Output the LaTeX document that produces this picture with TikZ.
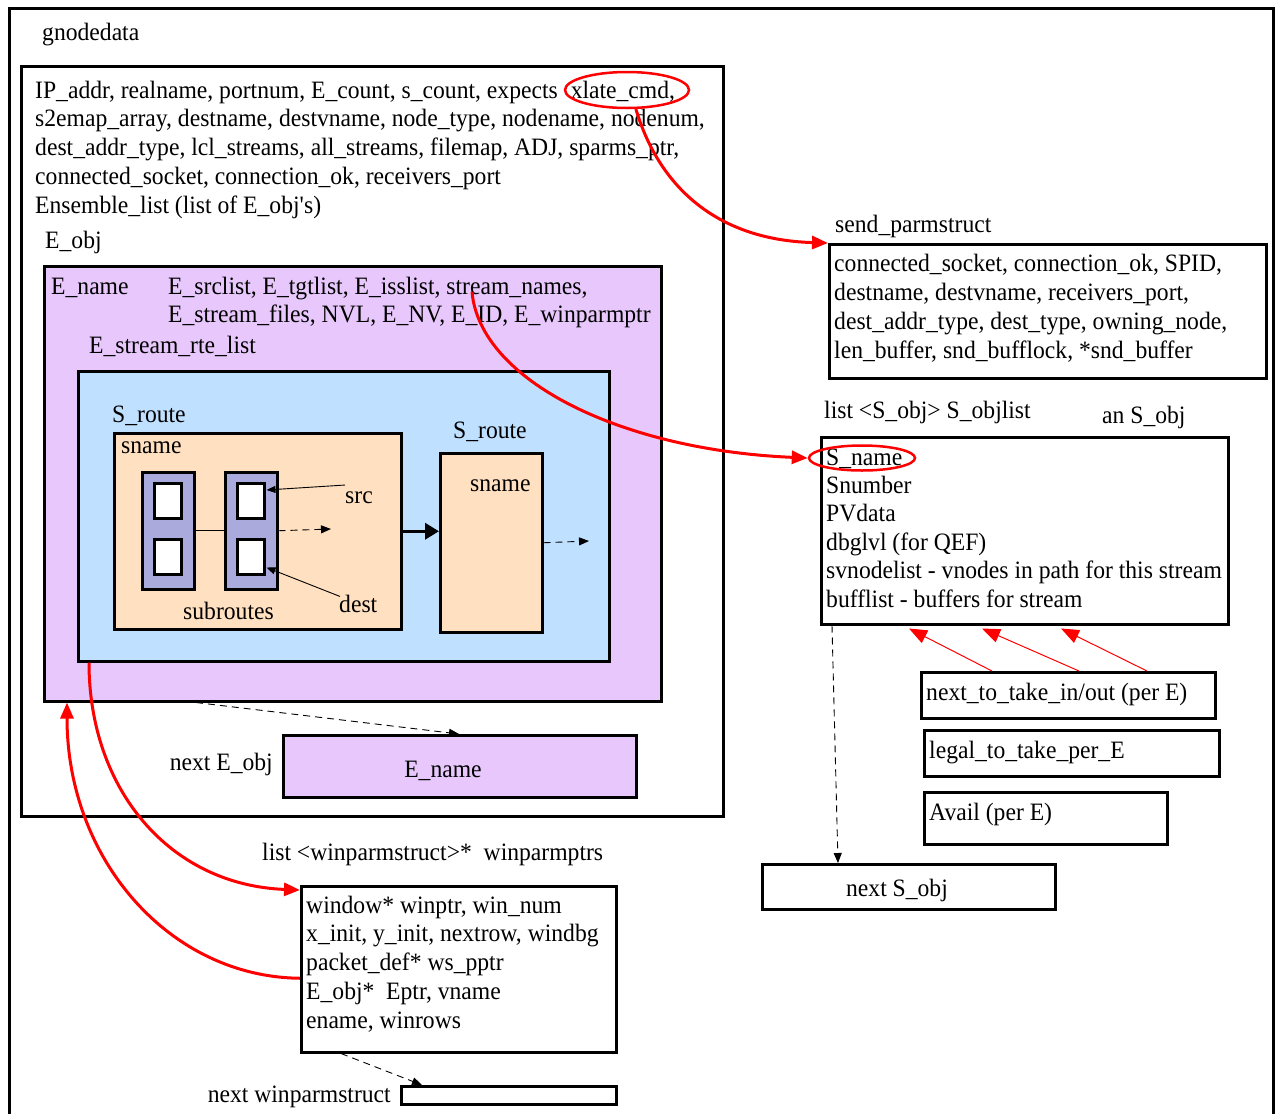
\documentclass[tikz,border=0pt]{standalone}
\usepackage{fontspec}
\setmainfont{Liberation Serif}[FakeStretch=0.945]
\usetikzlibrary{arrows.meta,shapes.geometric,calc}
\definecolor{eobj}{RGB}{232,200,252}
\definecolor{route}{RGB}{191,224,255}
\definecolor{peach}{RGB}{255,224,192}
\definecolor{subr}{RGB}{170,170,221}
\definecolor{hl}{RGB}{255,0,0}
\begin{document}
\begin{tikzpicture}[x=1pt,y=-1pt,
  font=\fontsize{25}{28.7}\selectfont,
  box/.style={draw, line width=2.5pt, inner sep=0pt, anchor=north west},
  txt/.style={inner sep=0pt, anchor=base west, align=left},
  cell/.style={box, fill=white, minimum width=27pt, minimum height=35pt},
  subbox/.style={box, fill=subr, minimum width=52pt, minimum height=117pt},
  ptr/.style={line width=3pt, hl, -{Triangle[length=16pt,width=13pt]}},
  thinptr/.style={line width=1pt, hl, -{Triangle[length=18pt,width=14pt]}},
  nextptr/.style={line width=0.9pt, dashed, dash pattern=on 7pt off 5pt, -{Triangle[length=10pt,width=8pt]}},
  ring/.style={ellipse, draw=hl, line width=2.5pt, inner sep=0pt}]
\useasboundingbox (0,0) rectangle (1275,1114);

% outer frame (open at the bottom)
\draw[line width=3pt] (9,1130) -- (9,8) -- (1273,8) -- (1273,1130);
\node[txt] (gname) at (42,40) {gnodedata};

% gnodedata body (multi-line texts are placed by the baseline of their last line)
\node[box, minimum width=702pt, minimum height=750pt] (gbox) at (20,65) {};
\node[txt] (gtext) at (35,213) {IP\_addr, realname, portnum, E\_count, s\_count, expects\hspace{7pt} xlate\_cmd,\\
s2emap\_array, destname, destvname, node\_type, nodename, nodenum,\\
dest\_addr\_type, lcl\_streams, all\_streams, filemap, ADJ, sparms\_ptr,\\
connected\_socket, connection\_ok, receivers\_port\\
Ensemble\_list (list of E\_obj\textquotesingle s)};
\node[ring, minimum width=124pt, minimum height=36pt] (ell1) at (627,90) {};

% E_obj
\node[txt] (eobjlbl) at (45,248) {E\_obj};
\node[box, fill=eobj, minimum width=617pt, minimum height=435pt] (eobj) at (43,265) {};
\node[txt] (ename) at (51,294) {E\_name};
\node[txt] (efields) at (168,322.7) {E\_srclist, E\_tgtlist, E\_isslist, stream\_names,\\
E\_stream\_files, NVL, E\_NV, E\_ID, E\_winparmptr};
\node[txt] (rtelbl) at (89,353) {E\_stream\_rte\_list};

% stream route list
\node[box, fill=route, minimum width=531pt, minimum height=290pt] (rte) at (77,370) {};
\node[txt] (sr1lbl) at (112,422) {S\_route};
\node[box, fill=peach, minimum width=287pt, minimum height=196pt] (sr1) at (113,432) {};
\node[txt] (sr1name) at (121,453) {sname};
\node[subbox] (sub1) at (141,471) {};
\node[cell] (c11) at (153,482) {};
\node[cell] (c12) at (153,538) {};
\node[subbox] (sub2) at (224,471) {};
\node[cell] (c21) at (236,482) {};
\node[cell] (c22) at (236,538) {};
\node[txt] (srclbl) at (345,503) {src};
\node[txt] (destlbl) at (339,612) {dest};
\node[txt] (sublbl) at (183,619) {subroutes};
\node[txt] (sr2lbl) at (453,438) {S\_route};
\node[box, fill=peach, minimum width=102pt, minimum height=179pt] (sr2) at (439,452) {};
\node[txt] (sr2name) at (470,491) {sname};

\draw[line width=1.2pt] (sub1.east) -- (sub2.west);
\coordinate (d1) at (331,529);
\draw[nextptr] (sub2.east) -- (d1);
\draw[line width=0.9pt, -{Triangle[length=9pt,width=7pt]}] ($(srclbl.north west)+(0,-6)$) -- ($(c21.north east)+(1,8)$);
\draw[line width=0.9pt, -{Triangle[length=9pt,width=7pt]}] ($(destlbl.north west)+(1,2)$) -- ($(c22.south east)+(1,-8)$);
\draw[line width=3.5pt, -{Triangle[length=14pt,width=16pt]}] (sr1.east) -- (sr1.east -| sr2.west);
\coordinate (d2) at (589,541);
\draw[nextptr] (sr2.east) -- (d2);

% next E_obj
\node[box, fill=eobj, minimum width=353pt, minimum height=62pt] (nexte) at (282,734) {};
\node[inner sep=0pt, anchor=base] (nextename) at (443,777) {E\_name};
\node[inner sep=0pt, anchor=base east] (nextelbl) at (273,770) {next E\_obj};
\draw[nextptr] ($(eobj.south west)+(153,0)$) -- ($(nexte.north west)+(177,0)$);

% send_parmstruct
\node[txt] (splbl) at (835,232) {send\_parmstruct};
\node[box, minimum width=437pt, minimum height=134pt] (spbox) at (828,243) {};
\node[txt] (sptext) at (834,358) {connected\_socket, connection\_ok, SPID,\\
destname, destvname, receivers\_port,\\
dest\_addr\_type, dest\_type, owning\_node,\\
len\_buffer, snd\_bufflock, *snd\_buffer};

% S_obj
\node[txt] (slistlbl) at (824,418) {list <S\_obj> S\_objlist};
\node[txt] (sobjlbl) at (1102,423) {an S\_obj};
\node[box, minimum width=407pt, minimum height=187pt] (sobj) at (820,436) {};
\node[txt, font=\fontsize{25}{28.4}\selectfont] (sobjtext) at (826,607) {S\_name\\
Snumber\\
PVdata\\
dbglvl (for QEF)\\
svnodelist - vnodes in path for this stream\\
bufflist - buffers for stream};
\node[ring, minimum width=106pt, minimum height=25pt] (ell2) at (862,458) {};

\node[box, minimum width=294pt, minimum height=46pt] (ntt) at (920,671) {};
\node[txt] (ntttext) at (926,700) {next\_to\_take\_in/out (per E)};
\node[box, minimum width=295pt, minimum height=46pt] (legal) at (923,729) {};
\node[txt] (legaltext) at (929,758) {legal\_to\_take\_per\_E};
\node[box, minimum width=243pt, minimum height=52pt] (avail) at (923,791) {};
\node[txt] (availtext) at (929,820) {Avail (per E)};
\node[box, minimum width=293pt, minimum height=45pt] (nexts) at (761,863) {};
\node[inner sep=0pt, anchor=base] (nextstext) at (897,896) {next S\_obj};

\draw[thinptr] ($(ntt.north west)+(72,0)$) -- ($(sobj.south west)+(89,3)$);
\draw[thinptr] ($(ntt.north west)+(159,0)$) -- ($(sobj.south west)+(162,3)$);
\draw[thinptr] ($(ntt.north west)+(227,0)$) -- ($(sobj.south west)+(241,3)$);
\draw[nextptr] ($(sobj.south west)+(12,0)$) -- ($(nexts.north west)+(77,0)$);

% winparmstruct list
\node[txt] (wplbl) at (262,860) {list <winparmstruct>*\ \ winparmptrs};
\node[box, minimum width=315pt, minimum height=166pt] (wp) at (300,885) {};
\node[txt] (wptext) at (306,1028) {window* winptr, win\_num\\
x\_init, y\_init, nextrow, windbg\\
packet\_def* ws\_pptr\\
E\_obj*\ \ Eptr, vname\\
ename, winrows};
\node[box, fill=white, minimum width=215pt, minimum height=18pt] (nextwp) at (400,1085) {};
\node[inner sep=0pt, anchor=base east] (nextwplbl) at (391,1102) {next winparmstruct};
\draw[nextptr] ($(wp.south west)+(41,0)$) -- ($(nextwp.north west)+(22,0)$);

% pointer connectors
\draw[ptr] (ell1.-65) .. controls (660,190) and (720,240) .. (spbox.north west);
\coordinate (sn) at (472,292);
\draw[ptr] (sn) .. controls (480,380) and (620,450) .. (ell2.west);
\draw[ptr] ($(rte.south west)+(12,0)$) .. controls (89,790) and (170,885) .. ($(wp.north west)+(0,5)$);
\draw[ptr] ($(wp.west)+(0,9)$) .. controls (170,977) and (67,860) .. ($(eobj.south west)+(24,0)$);
\end{tikzpicture}
\end{document}
